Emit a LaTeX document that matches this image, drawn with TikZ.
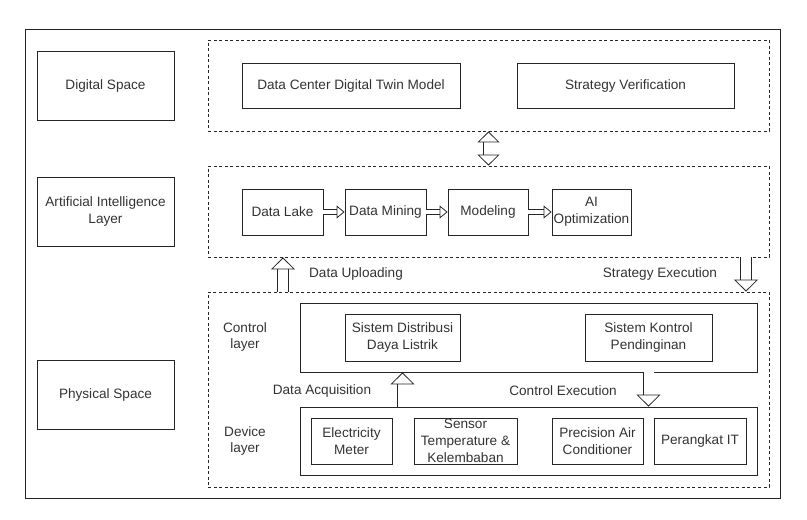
\documentclass[tikz,border=0pt]{standalone}
\usepackage{fontspec}
\setmainfont{Liberation Sans}
\usetikzlibrary{arrows.meta,positioning}

\begin{document}
\begin{tikzpicture}[x=1pt, y=-1pt, line width=0.8pt, draw=black!85,
  every node/.style={font=\fontsize{13.6}{16.8}\selectfont, align=center, text=black!80, inner sep=1pt},
  box/.style 2 args={draw=black!85, rectangle, minimum width=#1, minimum height=#2},
  zone/.style 2 args={draw=black!85, rectangle, dash pattern=on 3pt off 2.5pt, minimum width=#1, minimum height=#2},
  flow/.style={double=white, double distance=10pt, draw=black!85, -{Triangle[open, length=12pt, width=24pt]}},
  flowboth/.style={double=white, double distance=10pt, draw=black!85, {Triangle[open, length=11pt, width=22pt]}-{Triangle[open, length=11pt, width=22pt]}},
  small/.style={double=white, double distance=4pt, draw=black!85, -{Triangle[open, length=8pt, width=13pt]}}]
  \useasboundingbox (0,0) rectangle (807,520);

  % frame and left column
  \node[box={755pt}{469pt}] (frame) at (402.5,263.5) {};
  \node[box={137pt}{69pt}] (ds) at (105.5,85.5) {Digital Space};
  \node[box={137pt}{69pt}] (ail) at (105.5,211.5) {Artificial Intelligence\\ Layer};
  \node[box={137pt}{69pt}] (ps) at (105.5,394.5) {Physical Space};

  % dashed layers
  \node[zone={561pt}{91pt}] (top) at (488.5,85.5) {};
  \node[zone={561pt}{91pt}] (mid) at (488.5,211.5) {};
  \node[zone={561pt}{195pt}] (bot) at (488.5,389.5) {};

  % digital space
  \node[box={218pt}{45pt}] (twin) at (351,85.5) {Data Center Digital Twin Model};
  \node[box={217pt}{45pt}] (verif) at (625.5,85.5) {Strategy Verification};

  % AI layer
  \node[box={81pt}{46pt}] (lake) at (282.5,212) {Data Lake};
  \node[box={81pt}{46pt}] (mining) at (385.5,212) {Data Mining};
  \node[box={80pt}{46pt}] (model) at (488,212) {Modeling};
  \node[box={79pt}{46pt}] (opt) at (591.5,212) {AI\\ Optimization};
  \draw[small] (lake) -- (mining);
  \draw[small] (mining) -- (model);
  \draw[small] (model) -- (opt);

  % physical space
  \node (cl) at (245,337) {Control\\ layer};
  \node (dl) at (245,441) {Device\\ layer};
  \node[box={457pt}{69pt}] (ctrl) at (528.5,337.5) {};
  \node[box={115pt}{47pt}] (dist) at (402.5,337.5) {Sistem Distribusi\\ Daya Listrik};
  \node[box={127pt}{47pt}] (cool) at (648.5,337.5) {Sistem Kontrol\\ Pendinginan};
  \node[box={457pt}{68pt}] (dev) at (528.5,441) {};
  \node[box={81pt}{46pt}] (meter) at (351.5,441) {Electricity\\ Meter};
  \node[box={103pt}{46pt}] (sensor) at (465.5,441) {Sensor\\ Temperature \&\\ Kelembaban};
  \node[box={91pt}{46pt}] (pac) at (597.5,441) {Precision Air\\ Conditioner};
  \node[box={92pt}{46pt}] (pit) at (700,441) {Perangkat IT};

  % links between layers
  \coordinate (up) at (283,0);
  \coordinate (down) at (746,0);
  \draw[flowboth] (top) -- (mid);
  \draw[flow] (bot.north -| up) -- (mid.south -| up);
  \draw[flow] (mid.south -| down) -- (bot.north -| down);
  \draw[flow] (dev.north -| dist.south) -- (ctrl.south -| dist.south);
  \draw[flow] (ctrl.south -| cool.south) -- (dev.north -| cool.south);
  \node (upl) at (356,274) {Data Uploading};
  \node (exe) at (660,274) {Strategy Execution};
  \node (acq) at (322,391) {Data Acquisition};
  \node (cex) at (563,391) {Control Execution};
\end{tikzpicture}
\end{document}
